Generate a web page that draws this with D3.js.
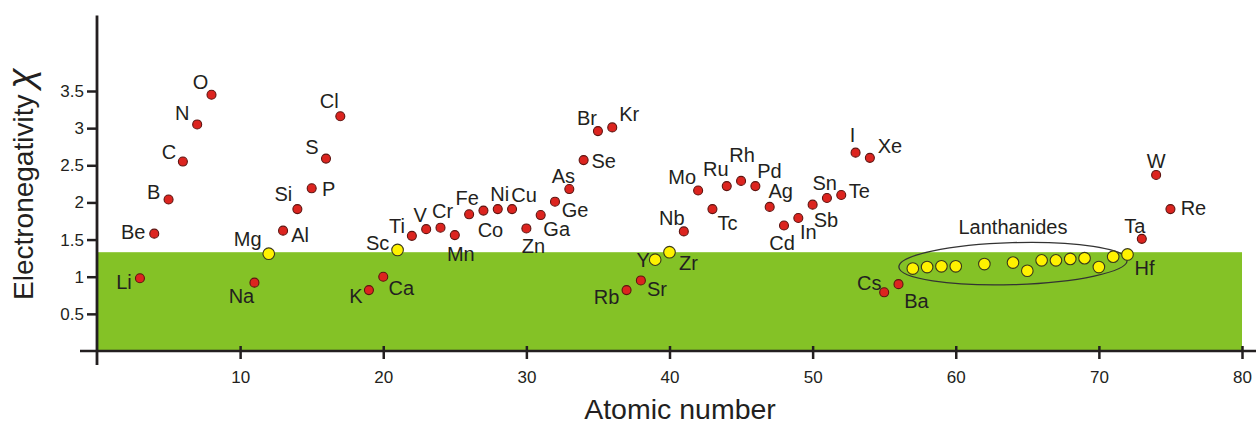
<!DOCTYPE html>
<html>
<head>
<meta charset="utf-8">
<script src="https://cdn.jsdelivr.net/npm/d3@7"></script>
<style>
  body { margin: 0; background: #fff; }
  svg { display: block; }
  text { font-family: "Liberation Sans", Arial, Helvetica, sans-serif; fill: #231f20; }
</style>
</head>
<body>
<svg id="chart" width="1256" height="424"></svg>
<script>
// Pauling electronegativity against atomic number
const symbols = ["Li","Be","B","C","N","O","Na","Mg","Al","Si","P","S","Cl",
  "K","Ca","Sc","Ti","V","Cr","Mn","Fe","Co","Ni","Cu","Zn","Ga","Ge","As","Se","Br","Kr",
  "Rb","Sr","Y","Zr","Nb","Mo","Tc","Ru","Rh","Pd","Ag","Cd","In","Sn","Sb","Te","I","Xe",
  "Cs","Ba","La","Ce","Pr","Nd","Sm","Gd","Tb","Dy","Ho","Er","Tm","Yb","Lu",
  "Hf","Ta","W","Re"];
const atomicNumbers = [3,4,5,6,7,8,11,12,13,14,15,16,17,
  19,20,21,22,23,24,25,26,27,28,29,30,31,32,33,34,35,36,
  37,38,39,40,41,42,43,44,45,46,47,48,49,50,51,52,53,54,
  55,56,57,58,59,60,62,64,65,66,67,68,69,70,71,
  72,73,74,75];
const electronegativity = [0.98,1.58,2.04,2.55,3.05,3.45,0.92,1.31,1.62,1.91,2.19,2.59,3.16,
  0.82,1.00,1.36,1.55,1.64,1.66,1.56,1.84,1.89,1.91,1.91,1.65,1.83,2.01,2.18,2.57,2.96,3.01,
  0.82,0.95,1.23,1.33,1.61,2.16,1.91,2.22,2.29,2.22,1.94,1.69,1.79,1.97,2.06,2.10,2.67,2.60,
  0.79,0.90,1.11,1.13,1.14,1.14,1.17,1.19,1.08,1.22,1.22,1.24,1.25,1.13,1.27,
  1.30,1.51,2.37,1.91];
// elements drawn as yellow markers
const yellowSymbols = ["Mg","Sc","Y","Zr","La","Ce","Pr","Nd","Sm","Gd","Tb","Dy","Ho","Er","Tm","Yb","Lu","Hf"];
const lanthanides = ["La","Ce","Pr","Nd","Sm","Gd","Tb","Dy","Ho","Er","Tm","Yb","Lu"];
const bandTop = 1.33;
const xTicks = [10,20,30,40,50,60,70,80];
const yTicks = [0.5,1,1.5,2,2.5,3,3.5];
const xTitle = "Atomic number";
const yTitle = "Electronegativity";
const groupLabel = "Lanthanides";

// label placement: [dx, dy] from marker centre, text centred
const labelOffset = {
  Li:[-16,11], Be:[-21,5], B:[-15,0], C:[-14,-3], N:[-15,-4], O:[-11,-6],
  Na:[-13,20], Mg:[-21,-8], Al:[17,11], Si:[-14,-8], P:[17,8], S:[-14,-5], Cl:[-11,-8],
  K:[-13,13], Ca:[18,18], Sc:[-20,0], Ti:[-15,-3], V:[-6,-7], Cr:[2,-10], Mn:[6,26],
  Fe:[-2,-9], Co:[7,26], Ni:[2,-8], Cu:[12,-7], Zn:[7,25], Ga:[16,21], Ge:[20,15],
  As:[-6,-6], Se:[20,8], Br:[-11,-6], Kr:[17,-6],
  Rb:[-20,14], Sr:[16,16], Y:[-12,7], Zr:[19,18], Nb:[-12,-6], Mo:[-16,-7], Tc:[15,21],
  Ru:[-11,-10], Rh:[1,-19], Pd:[14,-8], Ag:[11,-9], Cd:[-2,25], In:[10,21], Sn:[12,-15],
  Sb:[-1,29], Te:[18,3], I:[-3,-11], Xe:[20,-5], Cs:[-15,-2], Ba:[18,24],
  Hf:[17,21], Ta:[-7,-6], W:[0,-7], Re:[23,6]
};

const data = symbols.map((s, i) => ({ sym: s, z: atomicNumbers[i], en: electronegativity[i] }));

const svg = d3.select("#chart");
const x = d3.scaleLinear().domain([0, 80]).range([97, 1242]);
const y = d3.scaleLinear().domain([0, 3.5]).range([351, 91]);
const ink = "#231f20";

// green band below the threshold
svg.append("rect")
  .attr("x", x(0)).attr("y", y(bandTop))
  .attr("width", x(80) - x(0)).attr("height", y(0) - y(bandTop))
  .attr("fill", "#84c226");

// x axis
const xAxis = svg.append("g").attr("transform", `translate(0,${y(0)})`)
  .call(d3.axisBottom(x).tickValues(xTicks).tickSize(8).tickPadding(8).tickFormat(d3.format("d")));
xAxis.select(".domain").remove();
xAxis.selectAll(".tick line").attr("y1", -5).attr("y2", 8).attr("stroke", ink).attr("stroke-width", 2.5);
xAxis.selectAll(".tick text").attr("font-size", 17).attr("fill", "#333").attr("dy", "0.95em")
  .style("font-family", "'Liberation Sans', Arial, sans-serif");
svg.append("line")
  .attr("x1", 80).attr("x2", 1256).attr("y1", y(0)).attr("y2", y(0))
  .attr("stroke", ink).attr("stroke-width", 2.6);

// y axis
const yAxis = svg.append("g").attr("transform", `translate(${x(0)},0)`)
  .call(d3.axisLeft(y).tickValues(yTicks).tickSize(10).tickPadding(3).tickFormat(d => String(d)));
yAxis.select(".domain").remove();
yAxis.selectAll(".tick line").attr("stroke", ink).attr("stroke-width", 2.5);
yAxis.selectAll(".tick text").attr("font-size", 17).attr("fill", "#333")
  .style("font-family", "'Liberation Sans', Arial, sans-serif");
svg.append("line")
  .attr("x1", x(0)).attr("x2", x(0)).attr("y1", 15.5).attr("y2", 365)
  .attr("stroke", ink).attr("stroke-width", 2.8);

// axis titles
svg.append("text")
  .attr("x", 680).attr("y", 419).attr("text-anchor", "middle")
  .attr("font-size", 28.5).text(xTitle);
const yt = svg.append("text")
  .attr("transform", "translate(33,300) rotate(-90)")
  .attr("font-size", 28);
yt.append("tspan").text(yTitle);
yt.append("tspan").attr("dx", 6).attr("font-size", 37).attr("font-style", "italic").text("\u03C7");

// ellipse around the lanthanides
const lan = data.filter(d => lanthanides.includes(d.sym));
const ex0 = x(d3.min(lan, d => d.z)), ex1 = x(d3.max(lan, d => d.z));
const ecx = (ex0 + ex1) / 2, ecy = y(d3.mean(lan, d => d.en));
svg.append("ellipse")
  .attr("cx", ecx).attr("cy", ecy)
  .attr("rx", (ex1 - ex0) / 2 + 14).attr("ry", 21)
  .attr("transform", `rotate(-1.7,${ecx},${ecy})`)
  .attr("fill", "none").attr("stroke", "#333").attr("stroke-width", 1.3);
svg.append("text")
  .attr("x", ecx).attr("y", 234).attr("text-anchor", "middle")
  .attr("font-size", 20).text(groupLabel);

// markers
svg.append("g").selectAll("circle")
  .data(data).join("circle")
  .attr("cx", d => x(d.z)).attr("cy", d => y(d.en))
  .attr("r", d => yellowSymbols.includes(d.sym) ? 5.8 : 4.5)
  .attr("fill", d => yellowSymbols.includes(d.sym) ? "#fff200" : "#dc241f")
  .attr("stroke", d => yellowSymbols.includes(d.sym) ? "#3a3a1a" : "#5e1410")
  .attr("stroke-width", 1.1);

// element symbols
svg.append("g").selectAll("text")
  .data(data.filter(d => labelOffset[d.sym])).join("text")
  .attr("x", d => x(d.z) + labelOffset[d.sym][0])
  .attr("y", d => y(d.en) + labelOffset[d.sym][1])
  .attr("text-anchor", "middle")
  .attr("font-size", 20)
  .text(d => d.sym);
</script>
</body>
</html>
